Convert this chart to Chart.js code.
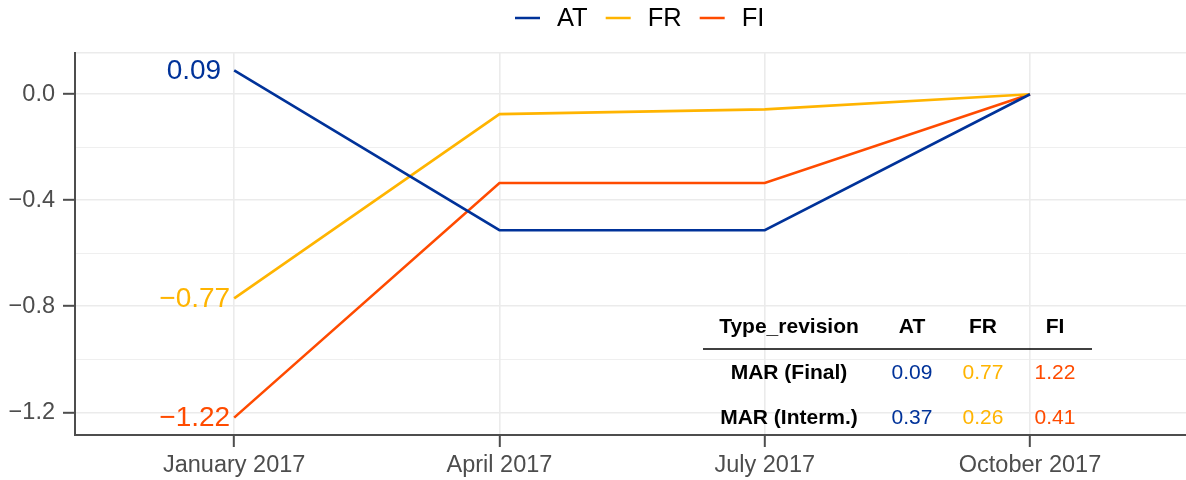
<!DOCTYPE html>
<html><head><meta charset="utf-8">
<script src="https://cdn.jsdelivr.net/npm/chart.js@4/dist/chart.umd.min.js"></script>
<style>html,body{margin:0;padding:0;background:#fff}#wrap{width:1186px;height:480px;position:relative}</style>
</head><body><div id="wrap"><canvas id="c"></canvas></div>
<script>
const categories = ['January 2017', 'April 2017', 'July 2017', 'October 2017'];
const seriesNames = ['AT', 'FR', 'FI'];
const seriesColors = ['#003299', '#FFB400', '#FF4B00'];
const valuesAT = [0.09, -0.513, -0.513, 0.0];
const valuesFR = [-0.77, -0.075, -0.057, 0.0];
const valuesFI = [-1.22, -0.335, -0.335, 0.0];
const yMajorTicks = [0.0, -0.4, -0.8, -1.2];
const yMinorTicks = [-0.2, -0.6, -1.0];
const tableHeader = ['Type_revision', 'AT', 'FR', 'FI'];
const tableRowNames = ['MAR (Final)', 'MAR (Interm.)'];
const marFinal = [0.09, 0.77, 1.22];
const marInterm = [0.37, 0.26, 0.41];

const FONT = '"Liberation Sans", Arial, Helvetica, sans-serif';
const fmt = (v, d) => (v < 0 ? '\u2212' : '') + Math.abs(v).toFixed(d);
const allSeries = [valuesAT, valuesFR, valuesFI];
const yMin = -1.2855, yMax = 0.1555;

const datasets = allSeries.map((vals, i) => ({
  label: seriesNames[i],
  data: vals.map((v, j) => ({ x: j, y: v })),
  borderColor: seriesColors[i],
  backgroundColor: seriesColors[i],
  borderWidth: 2.6,
  pointRadius: 0,
  pointHoverRadius: 0,
  tension: 0,
  fill: false
}));

const startLabels = {
  id: 'startLabels',
  afterDatasetsDraw(chart, args, opts) {
    const ctx = chart.ctx;
    ctx.save();
    ctx.font = '28px ' + FONT;
    ctx.textAlign = 'right';
    ctx.textBaseline = 'middle';
    chart.data.datasets.forEach((ds, i) => {
      const el = chart.getDatasetMeta(i).data[0];
      ctx.fillStyle = ds.borderColor;
      ctx.fillText(fmt(ds.data[0].y, 2), el.x + opts.nudge[i], el.y + 1);
    });
    ctx.restore();
  }
};

const customLegend = {
  id: 'customLegend',
  afterDraw(chart) {
    const ctx = chart.ctx;
    ctx.save();
    ctx.font = '25.5px ' + FONT;
    ctx.textBaseline = 'middle';
    ctx.textAlign = 'left';
    let x = 515;
    const y = 18;
    chart.data.datasets.forEach((ds) => {
      ctx.strokeStyle = ds.borderColor;
      ctx.lineWidth = 2.5;
      ctx.beginPath();
      ctx.moveTo(x, y);
      ctx.lineTo(x + 25, y);
      ctx.stroke();
      x += 25 + 17;
      ctx.fillStyle = '#000';
      ctx.fillText(ds.label, x, y + 1);
      x += ctx.measureText(ds.label).width + 18;
    });
    ctx.restore();
  }
};

const marTable = {
  id: 'marTable',
  afterDraw(chart) {
    const ctx = chart.ctx;
    ctx.save();
    const colX = [789, 912, 983, 1055];
    const rowY = [327, 373, 418];
    ctx.textAlign = 'center';
    ctx.textBaseline = 'middle';
    ctx.fillStyle = '#000';
    ctx.font = 'bold 21px ' + FONT;
    tableHeader.forEach((h, i) => ctx.fillText(h, colX[i], rowY[0]));
    ctx.strokeStyle = '#000';
    ctx.lineWidth = 1.5;
    ctx.beginPath();
    ctx.moveTo(703, 349);
    ctx.lineTo(1092, 349);
    ctx.stroke();
    [marFinal, marInterm].forEach((row, r) => {
      ctx.font = 'bold 21px ' + FONT;
      ctx.fillStyle = '#000';
      ctx.fillText(tableRowNames[r], colX[0], rowY[r + 1]);
      ctx.font = '21px ' + FONT;
      row.forEach((v, c) => {
        ctx.fillStyle = seriesColors[c];
        ctx.fillText(v.toFixed(2), colX[c + 1], rowY[r + 1]);
      });
    });
    ctx.restore();
  }
};

const isMajor = (v) => yMajorTicks.some(t => Math.abs(t - v) < 1e-6);

new Chart(document.getElementById('c'), {
  type: 'line',
  data: { datasets },
  options: {
    responsive: true,
    maintainAspectRatio: false,
    animation: false,
    layout: { padding: { top: 53, left: 0, right: 0, bottom: 0 } },
    plugins: {
      legend: { display: false },
      tooltip: { enabled: false },
      startLabels: { nudge: [-13, -4, -4] }
    },
    scales: {
      x: {
        type: 'linear',
        min: -0.6,
        max: 3.588,
        afterBuildTicks: (s) => { s.ticks = categories.map((_, i) => ({ value: i })); },
        afterFit: (s) => { s.height = 45; },
        ticks: {
          callback: (v) => categories[Math.round(v)],
          color: '#4D4D4D',
          font: { size: 23.5, family: FONT },
          padding: 4,
          maxRotation: 0,
          autoSkip: false
        },
        grid: { color: '#EBEBEB', lineWidth: 1.6, tickColor: '#4D4D4D', tickWidth: 2, tickLength: 12 },
        border: { display: true, color: '#4D4D4D', width: 2 }
      },
      y: {
        type: 'linear',
        min: yMin,
        max: yMax,
        afterBuildTicks: (s) => {
          s.ticks = yMajorTicks.concat(yMinorTicks).concat([yMax]).sort((a, b) => a - b).map(v => ({ value: v }));
        },
        afterFit: (s) => { s.width = 75; },
        ticks: {
          callback: (v) => isMajor(v) ? fmt(v, 1) : '',
          color: '#4D4D4D',
          font: { size: 23.5, family: FONT },
          padding: 8,
          autoSkip: false
        },
        grid: {
          color: '#EBEBEB',
          lineWidth: (c) => isMajor(c.tick.value) || Math.abs(c.tick.value - yMax) < 1e-6 ? 1.6 : 0.8,
          tickColor: (c) => isMajor(c.tick.value) ? '#4D4D4D' : 'rgba(0,0,0,0)',
          tickWidth: 2,
          tickLength: 12
        },
        border: { display: true, color: '#4D4D4D', width: 2 }
      }
    }
  },
  plugins: [startLabels, customLegend, marTable]
});
</script>
</body></html>
